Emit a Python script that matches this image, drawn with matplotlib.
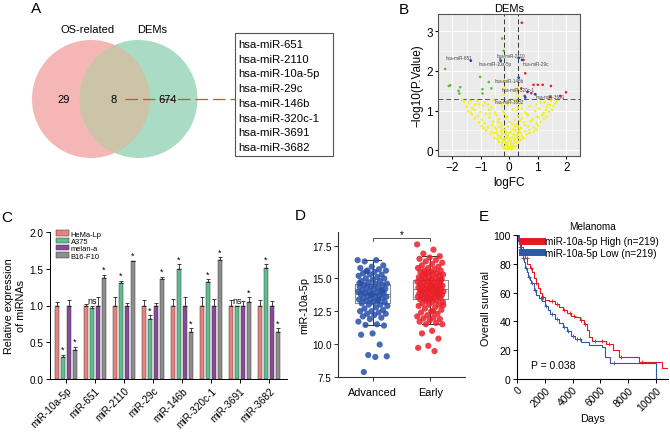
import numpy as np
import matplotlib
matplotlib.use("Agg")
import matplotlib.pyplot as plt
from matplotlib.patches import Circle, Rectangle
from matplotlib.lines import Line2D

plt.rcParams['font.family'] = ['Liberation Sans', 'DejaVu Sans']
plt.rcParams['axes.unicode_minus'] = True

W, H = 670, 435
fig = plt.figure(figsize=(W / 100, H / 100), dpi=100)

def px_axes(l, t, r, b):
    return fig.add_axes([l / W, 1 - b / H, (r - l) / W, (b - t) / H])

# ---------------- DATA ----------------
venn_labels = ['OS-related', 'DEMs']
venn_counts = [29, 8, 674]
common_mirs = ['hsa-miR-651', 'hsa-miR-2110', 'hsa-miR-10a-5p', 'hsa-miR-29c',
               'hsa-miR-146b', 'hsa-miR-320c-1', 'hsa-miR-3691', 'hsa-miR-3682']

# volcano
yel_fc = [-1.58, -1.42, -1.12, -0.86, -0.55, -0.32, 0.22, 0.36, 1.24, 1.46, 1.62, 1.55,
          -1.50, -1.30, -0.92, -0.62, -0.26, 0.31, 0.72, 1.05, 1.32, 1.50,
          -1.45, -1.22, -1.01, -0.71, -0.21, 0.26, 0.56, 0.91, 1.21, 1.40,
          -1.31, -1.10, -0.82, -0.46, -0.15, 0.30, 0.61, 0.96, 1.16, 1.31,
          -1.21, -0.96, -0.70, -0.36, -0.10, 0.19, 0.46, 0.81, 1.01, 1.22,
          -1.06, -0.86, -0.56, -0.31, 0.01, 0.26, 0.51, 0.76, 0.96, 1.11,
          -0.96, -0.76, -0.61, -0.50, -0.26, -0.05, 0.20, 0.41, 0.55, 0.66, 0.86, 1.01,
          -0.81, -0.62, -0.45, -0.30, -0.15, 0.05, 0.21, 0.36, 0.55, 0.71, 0.86,
          -0.66, -0.51, -0.40, -0.26, -0.11, 0.00, 0.15, 0.31, 0.45, 0.60, 0.71,
          -0.51, -0.41, -0.30, -0.20, -0.10, 0.00, 0.10, 0.20, 0.31, 0.41, 0.50,
          -0.36, -0.26, -0.16, -0.06, 0.05, 0.15, 0.25, 0.35,
          -0.25, -0.15, -0.08, 0.00, 0.08, 0.15, 0.22,
          -0.10, -0.04, 0.02, 0.08, -0.18, 0.14,
          -0.20, -0.16, 0.28, 0.25, 0.30, -0.18, 0.05, 0.20, -0.05, 0.12, -0.08, 0.10,
          -1.20, -0.75, 0.95, 1.35, -1.35, 1.28, -0.50, 0.45, -0.40, 0.38, -0.90, 0.95,
          -0.30, -0.22, -0.12, -0.02, 0.06, 0.18, 0.27, -0.45, 0.40, -0.05, 0.03, -0.12, 0.12, -0.35, 0.30,
          -1.65, -1.38, -1.05, 1.10, 1.42, 1.68, -0.68, 0.65, -0.24, 0.32, 0.18, -0.14]
yel_nlp = [1.22, 1.18, 1.24, 1.20, 1.26, 1.19, 1.23, 1.17, 1.21, 1.25, 1.19, 1.12,
           1.10, 1.06, 1.12, 1.08, 1.13, 1.07, 1.11, 1.05, 1.09, 1.02,
           0.98, 1.01, 0.96, 1.02, 0.97, 1.00, 0.95, 0.99, 0.94, 0.97,
           0.90, 0.86, 0.92, 0.88, 0.91, 0.87, 0.92, 0.85, 0.89, 0.84,
           0.80, 0.77, 0.82, 0.78, 0.81, 0.76, 0.80, 0.78, 0.83, 0.79,
           0.70, 0.67, 0.72, 0.68, 0.71, 0.66, 0.70, 0.73, 0.68, 0.71,
           0.61, 0.58, 0.63, 0.57, 0.62, 0.59, 0.61, 0.56, 0.63, 0.60, 0.57, 0.62,
           0.50, 0.47, 0.52, 0.48, 0.51, 0.46, 0.50, 0.53, 0.48, 0.51, 0.47,
           0.40, 0.43, 0.37, 0.41, 0.38, 0.42, 0.39, 0.41, 0.36, 0.40, 0.43,
           0.31, 0.28, 0.32, 0.27, 0.30, 0.29, 0.32, 0.28, 0.31, 0.27, 0.30,
           0.21, 0.18, 0.22, 0.19, 0.21, 0.17, 0.20, 0.22,
           0.11, 0.09, 0.12, 0.10, 0.08, 0.11, 0.09,
           0.03, 0.02, 0.04, 0.02, 0.05, 0.05,
           1.75, 1.55, 1.55, 1.45, 1.36, 1.40, 1.22, 1.27, 1.15, 1.02, 0.85, 0.66,
           1.15, 1.15, 1.15, 1.15, 0.95, 1.02, 0.95, 1.05, 0.72, 0.75, 0.55, 0.52,
           0.35, 0.25, 0.16, 0.07, 0.15, 0.25, 0.36, 0.44, 0.45, 0.35, 0.23, 0.45, 0.52, 0.58, 0.58,
           1.27, 1.24, 1.16, 1.20, 1.14, 1.24, 0.92, 0.88, 0.52, 0.48, 0.38, 0.30]
down_fc = [-0.25, -0.20, -0.32, -2.25, -1.02, -0.72, -2.07, -2.12, -1.72, -1.78, -1.75, -0.94, -0.63, -0.94]
down_nlp = [2.82, 2.51, 2.31, 2.05, 1.85, 1.72, 1.64, 1.62, 1.59, 1.50, 1.43, 1.54, 1.56, 1.43]
up_fc = [0.44, 0.56, 0.85, 1.00, 1.17, 1.46, 1.99, 0.42, 0.77, 0.54, 1.44, 1.79, 0.50]
up_nlp = [3.22, 1.94, 1.65, 1.65, 1.65, 1.62, 1.46, 1.56, 1.44, 1.37, 1.34, 1.37, 2.28]
lab_fc = [-1.35, 0.33, -0.30, 0.45, 0.33, 0.64, 0.91, 0.56]
lab_nlp = [2.26, 2.33, 2.26, 2.28, 1.83, 1.47, 1.41, 1.33]
lab_names = ['hsa-miR-651', 'hsa-miR-2110', 'hsa-miR-10a-5p', 'hsa-miR-29c',
             'hsa-miR-146b', 'hsa-miR-320c-1', 'hsa-miR-3691', 'hsa-miR-3682']
lab_text_fc = [-1.75, 0.05, -0.5, 0.95, 0.0, 0.3, 1.45, 0.0]
lab_text_nlp = [2.33, 2.40, 2.18, 2.20, 1.75, 1.54, 1.35, 1.22]

# bar chart
mirs = ['miR-10a-5p', 'miR-651', 'miR-2110', 'miR-29c', 'miR-146b', 'miR-320c-1', 'miR-3691', 'miR-3682']
cell_lines = ['HeMa-Lp', 'A375', 'melan-a', 'B16-F10']
hema = [1.0, 1.0, 1.0, 1.0, 1.0, 1.0, 1.0, 1.0]
hema_err = [0.05, 0.02, 0.12, 0.07, 0.09, 0.12, 0.08, 0.08]
a375 = [0.30, 0.97, 1.31, 0.82, 1.50, 1.32, 0.99, 1.51]
a375_err = [0.03, 0.02, 0.03, 0.05, 0.06, 0.04, 0.01, 0.05]
melan = [1.0, 1.0, 1.0, 1.0, 1.0, 1.0, 1.0, 1.0]
melan_err = [0.08, 0.12, 0.03, 0.04, 0.12, 0.09, 0.06, 0.06]
b16 = [0.40, 1.38, 1.60, 1.36, 0.64, 1.62, 1.05, 0.64]
b16_err = [0.04, 0.04, 0.01, 0.03, 0.05, 0.04, 0.06, 0.05]
a375_sig = ['*', 'ns', '*', '*', '*', '*', 'ns', '*']
b16_sig = ['*', '*', '*', '*', '*', '*', '*', '*']

# box/jitter
adv_vals = [16.4, 16.4, 16.3, 16.0, 15.9, 15.8, 15.7, 15.6, 15.6, 15.5, 15.4, 15.3, 15.3, 15.2,
            15.1, 15.0, 15.0, 14.9, 14.8, 14.8, 14.7, 14.6, 14.6, 14.5, 14.5, 14.4, 14.4, 14.3,
            14.3, 14.2, 14.2, 14.1, 14.1, 14.0, 14.0, 13.9, 13.9, 13.9, 13.8, 13.8, 13.7, 13.7,
            13.6, 13.6, 13.5, 13.5, 13.4, 13.4, 13.3, 13.3, 13.2, 13.2, 13.1, 13.0, 13.0, 12.9,
            12.8, 12.7, 12.6, 12.5, 12.5, 12.4, 12.3, 12.3, 12.2, 12.1, 12.0, 11.9, 11.7, 11.5,
            11.45, 11.4, 10.8, 10.7, 9.95, 9.15, 9.05, 9.0, 7.85, 14.05, 13.75, 14.65, 13.35, 15.55]
early_vals = [17.6, 17.2, 16.9, 16.7, 16.6, 16.5, 16.4, 16.3, 16.2, 16.1, 16.0, 15.9, 15.8, 15.8,
              15.7, 15.6, 15.6, 15.5, 15.5, 15.4, 15.4, 15.3, 15.3, 15.2, 15.2, 15.1, 15.1, 15.0,
              15.0, 14.95, 14.9, 14.9, 14.8, 14.8, 14.75, 14.7, 14.7, 14.6, 14.6, 14.55, 14.5, 14.5,
              14.45, 14.4, 14.4, 14.35, 14.3, 14.3, 14.25, 14.2, 14.2, 14.15, 14.1, 14.1, 14.05, 14.0,
              14.0, 13.95, 13.9, 13.9, 13.85, 13.8, 13.8, 13.75, 13.7, 13.7, 13.65, 13.6, 13.6, 13.55,
              13.5, 13.5, 13.4, 13.4, 13.3, 13.3, 13.2, 13.2, 13.1, 13.0, 13.0, 12.9, 12.8, 12.7,
              12.6, 12.5, 12.4, 12.3, 12.2, 12.1, 12.0, 11.95, 11.9, 11.8, 11.7, 11.6, 11.5, 11.5,
              11.0, 10.8, 10.4, 9.85, 9.7, 9.45, 15.35, 14.85, 14.45, 14.15, 13.85, 13.45, 12.95, 12.45]
box_groups = ['Advanced', 'Early']
box_q1 = [13.15, 13.45]
box_med = [13.85, 14.2]
box_q3 = [14.55, 14.9]
box_lo = [11.45, 11.5]
box_hi = [16.4, 16.7]

# survival
high_t = [0, 150, 300, 450, 600, 750, 900, 1050, 1200, 1350, 1500, 1650, 1800, 2000, 2300, 2700,
          3000, 3300, 3600, 3900, 4200, 4500, 4800, 5000, 5200, 5400, 6400, 6900, 7300, 8800, 10450, 10900]
high_s = [100, 96, 92, 87, 84, 80, 77, 74, 70, 67, 63, 60, 57, 55, 54, 52,
          50, 48, 46, 44, 43, 41, 38, 34, 29, 26.6, 24.5, 20, 15, 11.6, 7.4, 7.4]
low_t = [0, 100, 200, 300, 400, 500, 600, 700, 800, 900, 1000, 1200, 1400, 1600, 1800, 2000, 2200,
         2400, 2700, 3000, 3300, 3600, 3900, 4200, 4600, 5200, 6100, 6350, 6700, 10000, 10000]
low_s = [100, 96, 92, 88, 84, 81, 77, 74, 71, 69, 67, 62, 58, 56, 54, 51, 48,
         45, 42, 39, 36, 33, 30, 28, 26, 23.5, 22, 15, 11, 11, 0]
high_cens = [250, 700, 1000, 1400, 1900, 2500, 2900, 3400, 3800, 4100, 4600, 4900, 5600, 6100, 6600, 7500, 9000]
low_cens = [200, 450, 650, 850, 1100, 1300, 1700, 2100, 2500, 2900, 3400, 3700, 4000, 4300, 4500, 7000]

# ---------------- PANEL A ----------------
axA = px_axes(0, 0, 400, 200)
axA.set_xlim(0, 400)
axA.set_ylim(200, 0)
axA.axis('off')
c_left = Circle((91, 100), 59, facecolor='#F4B7B5', edgecolor='none')
c_right = Circle((138.5, 100), 59, facecolor='#AADCC5', edgecolor='none')
axA.add_patch(c_left)
axA.add_patch(c_right)
c_ov = Circle((138.5, 100), 59, facecolor='#CBC4A8', edgecolor='none')
axA.add_patch(c_ov)
c_ov.set_clip_path(c_left)
axA.text(88, 30, venn_labels[0], ha='center', va='center', fontsize=8)
axA.text(152, 30, venn_labels[1], ha='center', va='center', fontsize=8)
axA.text(64, 100, str(venn_counts[0]), ha='center', va='center', fontsize=8)
axA.text(114, 100, str(venn_counts[1]), ha='center', va='center', fontsize=8)
axA.text(168, 100, str(venn_counts[2]), ha='center', va='center', fontsize=8)
axA.plot([125, 235], [100, 100], color='#E8413C', lw=0.9, dashes=(10, 4))
axA.add_patch(Rectangle((235, 34), 98, 123, facecolor='white', edgecolor='#555555', lw=0.8))
for i, m in enumerate(common_mirs):
    axA.text(238, 45 + i * 14.7, m, ha='left', va='center', fontsize=8.2)
fig.text(36 / W, 1 - 9 / H, 'A', fontsize=11, ha='center', va='center')

# ---------------- PANEL B ----------------
axB = px_axes(438, 15, 580, 157)
axB.set_facecolor('#EBEBEB')
axB.set_xlim(-2.5, 2.48)
axB.set_ylim(-0.15, 3.44)
axB.set_xticks([-2, -1, 0, 1, 2])
axB.set_yticks([0, 1, 2, 3])
axB.set_xticks([-1.5, -0.5, 0.5, 1.5], minor=True)
axB.set_yticks([0.5, 1.5, 2.5], minor=True)
axB.grid(True, which='major', color='white', lw=0.8)
axB.grid(True, which='minor', color='white', lw=0.4)
axB.set_axisbelow(True)
axB.tick_params(which='minor', length=0)
axB.tick_params(which='major', length=2, labelsize=8.5, pad=1.5)
for s in axB.spines.values():
    s.set_color('#555555')
    s.set_linewidth(0.8)
axB.axvline(-0.2, color='#333333', lw=0.7, dashes=(5, 3))
axB.axvline(0.3, color='#333333', lw=0.7, dashes=(5, 3))
axB.axhline(1.3, color='#555555', lw=0.7, dashes=(5, 3))
axB.scatter(yel_fc, yel_nlp, s=3.5, color='#F2F21A', edgecolors='none', zorder=3)
axB.scatter(down_fc, down_nlp, s=3.5, color='#62B83A', edgecolors='none', zorder=3)
axB.scatter(up_fc, up_nlp, s=3.5, color='#E8202A', edgecolors='none', zorder=3)
axB.scatter(lab_fc, lab_nlp, s=4, color='#2747A0', edgecolors='none', zorder=4)
for x, y, n in zip(lab_text_fc, lab_text_nlp, lab_names):
    axB.text(x, y, n, fontsize=3.3, color='#444444', ha='center', va='center', zorder=5)
axB.set_title('DEMs', fontsize=8, pad=2)
axB.set_xlabel('logFC', fontsize=8.5, labelpad=2)
axB.set_ylabel('\u2212log10(P.Value)', fontsize=8.5, labelpad=2)
fig.text(404 / W, 1 - 10 / H, 'B', fontsize=11, ha='center', va='center')

# ---------------- PANEL C ----------------
axC = px_axes(50, 233, 287, 380)
colors_c = ['#E8827E', '#5EBE90', '#8A4A9A', '#8E8E8E']
series = [(hema, hema_err), (a375, a375_err), (melan, melan_err), (b16, b16_err)]
x = np.arange(len(mirs))
step = 0.207
bw = 0.15
for k, (vals, errs) in enumerate(series):
    xs = x + (k - 1.5) * step
    axC.bar(xs, vals, width=bw, color=colors_c[k], edgecolor='#3a3a3a', lw=0.35,
            label=cell_lines[k], zorder=2)
    axC.errorbar(xs, vals, yerr=[np.zeros(len(vals)), errs], fmt='none', ecolor='#222222',
                 elinewidth=0.6, capsize=1.2, capthick=0.6, zorder=3)
for i in range(len(mirs)):
    xa = x[i] - 0.5 * step
    top = a375[i] + a375_err[i]
    if a375_sig[i] == 'ns':
        axC.text(xa, top + 0.01, 'ns', ha='center', va='bottom', fontsize=6.5)
    else:
        axC.text(xa, top + 0.01, '*', ha='center', va='bottom', fontsize=6.5)
    xb = x[i] + 1.5 * step
    axC.text(xb, b16[i] + b16_err[i] + 0.01, b16_sig[i], ha='center', va='bottom', fontsize=6.5)
axC.set_xlim(-0.55, 7.62)
axC.set_ylim(0, 2.0)
axC.set_yticks([0, 0.5, 1.0, 1.5, 2.0])
axC.set_yticklabels(['0.0', '0.5', '1.0', '1.5', '2.0'])
axC.set_xticks(x)
axC.set_xticklabels(mirs, rotation=45, ha='right', rotation_mode='anchor', fontsize=7.2)
axC.tick_params(axis='y', labelsize=7.2, length=3, width=0.7, pad=1.5)
axC.tick_params(axis='x', length=3, width=0.7, pad=1.5)
axC.spines['top'].set_visible(False)
axC.spines['right'].set_visible(False)
axC.spines['left'].set_linewidth(0.7)
axC.spines['bottom'].set_linewidth(0.7)
axC.set_ylabel('Relative expression\nof miRNAs', fontsize=7.8, labelpad=3)
axC.legend(loc='upper left', bbox_to_anchor=(0.02, 1.02), fontsize=5.4, frameon=False,
           handlelength=1.8, handleheight=0.75, handletextpad=0.2, labelspacing=0.0,
           borderpad=0.05, borderaxespad=0.1)
fig.text(7 / W, 1 - 218 / H, 'C', fontsize=11, ha='center', va='center')

# ---------------- PANEL D ----------------
axD = px_axes(338, 233, 465, 378)
stats = []
for i in range(2):
    stats.append(dict(med=box_med[i], q1=box_q1[i], q3=box_q3[i], whislo=box_lo[i],
                      whishi=box_hi[i], fliers=[], label=box_groups[i]))
axD.bxp(stats, positions=[0, 1], widths=0.6, capwidths=0.3, showfliers=False,
        boxprops=dict(color='#8C8C8C', lw=0.8), medianprops=dict(color='#8C8C8C', lw=0.8),
        whiskerprops=dict(color='#333333', lw=0.7), capprops=dict(color='#333333', lw=0.7),
        zorder=1)
gr = 0.6180339887
for pos, vals, col, wid in [(0, adv_vals, '#2850A8', 0.52), (1, early_vals, '#E8202A', 0.46)]:
    n = len(vals)
    offs = np.array([((j * gr) % 1.0) - 0.5 for j in range(n)]) * wid
    axD.scatter(pos + offs, vals, s=20, color=col, alpha=0.85, edgecolors='none', zorder=2)
axD.plot([0, 0, 1, 1], [17.88, 18.08, 18.08, 17.88], color='#555555', lw=0.7)
axD.text(0.5, 18.0, '*', ha='center', va='bottom', fontsize=7)
axD.set_xlim(-0.6, 1.6)
axD.set_ylim(7.47, 18.55)
axD.set_yticks([7.5, 10.0, 12.5, 15.0, 17.5])
axD.set_yticklabels(['7.5', '10.0', '12.5', '15.0', '17.5'])
axD.set_xticks([0, 1])
axD.set_xticklabels(box_groups)
axD.tick_params(axis='both', labelsize=7.2, length=3, width=0.7, pad=1.5, colors='#333333')
axD.tick_params(axis='x', labelsize=7.8, pad=4)
for lab in axD.get_xticklabels() + axD.get_yticklabels():
    lab.set_color('black')
axD.spines['top'].set_visible(False)
axD.spines['right'].set_visible(False)
axD.spines['left'].set_color('#333333')
axD.spines['bottom'].set_color('#333333')
axD.set_ylabel('miR-10a-5p', fontsize=7.8, labelpad=2)
fig.text(300 / W, 1 - 216 / H, 'D', fontsize=11, ha='center', va='center')

# ---------------- PANEL E ----------------
axE = px_axes(517, 236, 668, 380)
red_c = '#E41A1C'
blue_c = '#2C5AA8'
axE.step(high_t, high_s, where='post', color=red_c, lw=0.8)
axE.step(low_t, low_s, where='post', color=blue_c, lw=0.8)

def surv_at(ts, ss, t):
    idx = np.searchsorted(ts, t, side='right') - 1
    return ss[idx]

axE.scatter(high_cens, [surv_at(high_t, high_s, t) for t in high_cens], marker='+', s=10,
            color=red_c, linewidths=0.6, zorder=3)
axE.scatter(low_cens, [surv_at(low_t, low_s, t) for t in low_cens], marker='+', s=10,
            color=blue_c, linewidths=0.6, zorder=3)
axE.set_xlim(0, 10860)
axE.set_ylim(0, 100)
axE.set_xticks([0, 2000, 4000, 6000, 8000, 10000])
axE.set_yticks([0, 20, 40, 60, 80, 100])
axE.tick_params(axis='x', labelrotation=45, labelsize=7.5, length=3, width=0.7, pad=1)
for lab in axE.get_xticklabels():
    lab.set_ha('right')
    lab.set_rotation_mode('anchor')
axE.tick_params(axis='y', labelsize=7.5, length=3, width=0.7, pad=1.5)
axE.spines['top'].set_visible(False)
axE.spines['right'].set_visible(False)
axE.set_xlabel('Days', fontsize=7.8, labelpad=1)
axE.set_ylabel('Overall survival', fontsize=7.8, labelpad=2)
axE.set_title('Melanoma', fontsize=7.2, pad=4)
handles = [Line2D([0], [0], color=red_c, lw=5), Line2D([0], [0], color=blue_c, lw=5)]
axE.legend(handles, ['miR-10a-5p High (n=219)', 'miR-10a-5p Low (n=219)'],
           loc='upper left', bbox_to_anchor=(0.035, 0.99), fontsize=7.2, frameon=False,
           handlelength=2.0, handletextpad=0.3, labelspacing=0.15, borderpad=0, borderaxespad=0)
axE.text(0.09, 0.10, 'P = 0.038', transform=axE.transAxes, fontsize=7.5, ha='left', va='center')
fig.text(484 / W, 1 - 217 / H, 'E', fontsize=11, ha='center', va='center')

fig.savefig('out.png', dpi=100)
